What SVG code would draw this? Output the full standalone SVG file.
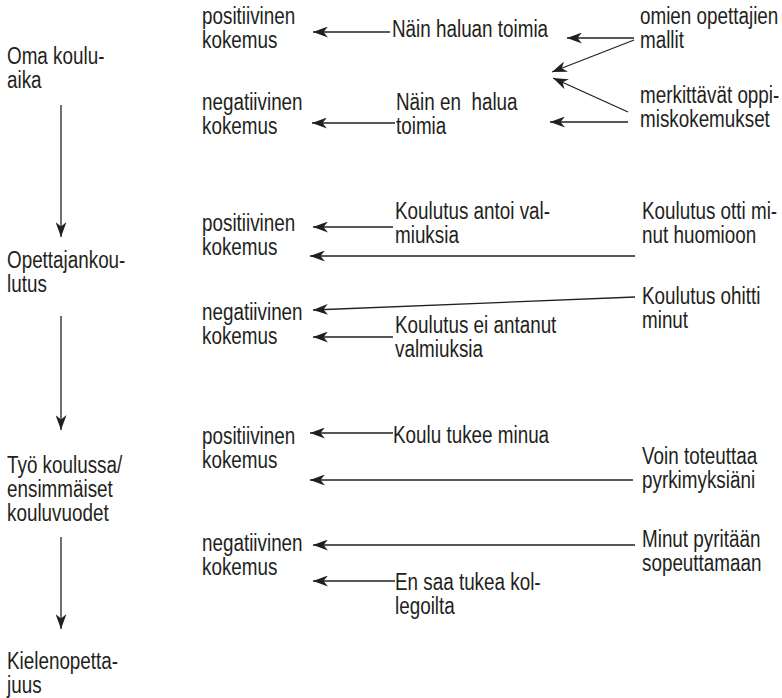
<svg xmlns="http://www.w3.org/2000/svg" width="782" height="698" viewBox="0 0 782 698">
<style>
text{font-family:"Liberation Sans",Arial,sans-serif;font-size:23px;fill:#231f20}
.c line{stroke:#231f20;stroke-width:1.3;fill:none;marker-end:url(#ah)}
</style>
<defs>
<marker id="ah" viewBox="0 0 15 11" refX="15" refY="5.5" markerWidth="15" markerHeight="11" markerUnits="userSpaceOnUse" orient="auto">
<path d="M15,5.5 L0,0 L4.5,5.5 L0,11 Z" fill="#231f20"/>
</marker>
</defs>
<rect width="782" height="698" fill="#fff"/>
<g id="stage1"><text transform="translate(7,64) scale(.82,1)">Oma koulu-</text><text transform="translate(7,88) scale(.82,1)">aika</text></g>
<g id="stage2"><text transform="translate(7,268) scale(.82,1)">Opettajankou-</text><text transform="translate(7,292) scale(.82,1)">lutus</text></g>
<g id="stage3"><text transform="translate(7,473) scale(.82,1)">Työ koulussa/</text><text transform="translate(7,497) scale(.82,1)">ensimmäiset</text><text transform="translate(7,521) scale(.82,1)">kouluvuodet</text></g>
<g id="stage4"><text transform="translate(7,669) scale(.82,1)">Kielenopetta-</text><text transform="translate(7,693) scale(.82,1)">juus</text></g>

<g id="pos1"><text transform="translate(202,24) scale(.82,1)">positiivinen</text><text transform="translate(202,48) scale(.82,1)">kokemus</text></g>
<g id="neg1"><text transform="translate(202,110) scale(.82,1)">negatiivinen</text><text transform="translate(202,134) scale(.82,1)">kokemus</text></g>
<g id="pos2"><text transform="translate(202,231) scale(.82,1)">positiivinen</text><text transform="translate(202,255) scale(.82,1)">kokemus</text></g>
<g id="neg2"><text transform="translate(202,320) scale(.82,1)">negatiivinen</text><text transform="translate(202,344) scale(.82,1)">kokemus</text></g>
<g id="pos3"><text transform="translate(202,444) scale(.82,1)">positiivinen</text><text transform="translate(202,468) scale(.82,1)">kokemus</text></g>
<g id="neg3"><text transform="translate(202,551) scale(.82,1)">negatiivinen</text><text transform="translate(202,575) scale(.82,1)">kokemus</text></g>

<g id="m1"><text transform="translate(392,37) scale(.82,1)">Näin haluan toimia</text></g>
<g id="m2"><text transform="translate(396,110) scale(.82,1)" xml:space="preserve">Näin en  halua</text><text transform="translate(396,134) scale(.82,1)">toimia</text></g>
<g id="r1"><text transform="translate(640,24) scale(.82,1)">omien opettajien</text><text transform="translate(640,48) scale(.82,1)">mallit</text></g>
<g id="r2"><text transform="translate(640,103) scale(.82,1)">merkittävät oppi-</text><text transform="translate(640,127) scale(.82,1)">miskokemukset</text></g>

<g id="m3"><text transform="translate(395,219) scale(.82,1)">Koulutus antoi val-</text><text transform="translate(395,243) scale(.82,1)">miuksia</text></g>
<g id="r3"><text transform="translate(642,219) scale(.82,1)">Koulutus otti mi-</text><text transform="translate(642,243) scale(.82,1)">nut huomioon</text></g>
<g id="r4"><text transform="translate(642,304) scale(.82,1)">Koulutus ohitti</text><text transform="translate(642,328) scale(.82,1)">minut</text></g>
<g id="m4"><text transform="translate(395,333) scale(.82,1)">Koulutus ei antanut</text><text transform="translate(395,357) scale(.82,1)">valmiuksia</text></g>

<g id="m5"><text transform="translate(393,443) scale(.82,1)">Koulu tukee minua</text></g>
<g id="r5"><text transform="translate(642,464) scale(.82,1)">Voin toteuttaa</text><text transform="translate(642,488) scale(.82,1)">pyrkimyksiäni</text></g>
<g id="r6"><text transform="translate(642,547) scale(.82,1)">Minut pyritään</text><text transform="translate(642,571) scale(.82,1)">sopeuttamaan</text></g>
<g id="m6"><text transform="translate(395,590) scale(.82,1)">En saa tukea kol-</text><text transform="translate(395,614) scale(.82,1)">legoilta</text></g>

<g id="connectors" class="c">
<line x1="61" y1="105" x2="61" y2="237"/>
<line x1="61" y1="316" x2="61" y2="430"/>
<line x1="61" y1="537" x2="61" y2="629"/>
<line x1="390" y1="32" x2="313" y2="32"/>
<line x1="395" y1="123" x2="312" y2="123"/>
<line x1="634" y1="38" x2="567" y2="38"/>
<line x1="634" y1="40" x2="552" y2="72"/>
<line x1="628" y1="112" x2="553" y2="78"/>
<line x1="628" y1="122" x2="550" y2="122"/>
<line x1="393" y1="227" x2="313" y2="227"/>
<line x1="635" y1="256" x2="310" y2="256"/>
<line x1="635" y1="297" x2="313" y2="310"/>
<line x1="393" y1="337" x2="313" y2="337"/>
<line x1="393" y1="433" x2="310" y2="433"/>
<line x1="633" y1="480" x2="310" y2="480"/>
<line x1="635" y1="545" x2="313" y2="545"/>
<line x1="395" y1="581" x2="313" y2="581"/>
</g>
</svg>
